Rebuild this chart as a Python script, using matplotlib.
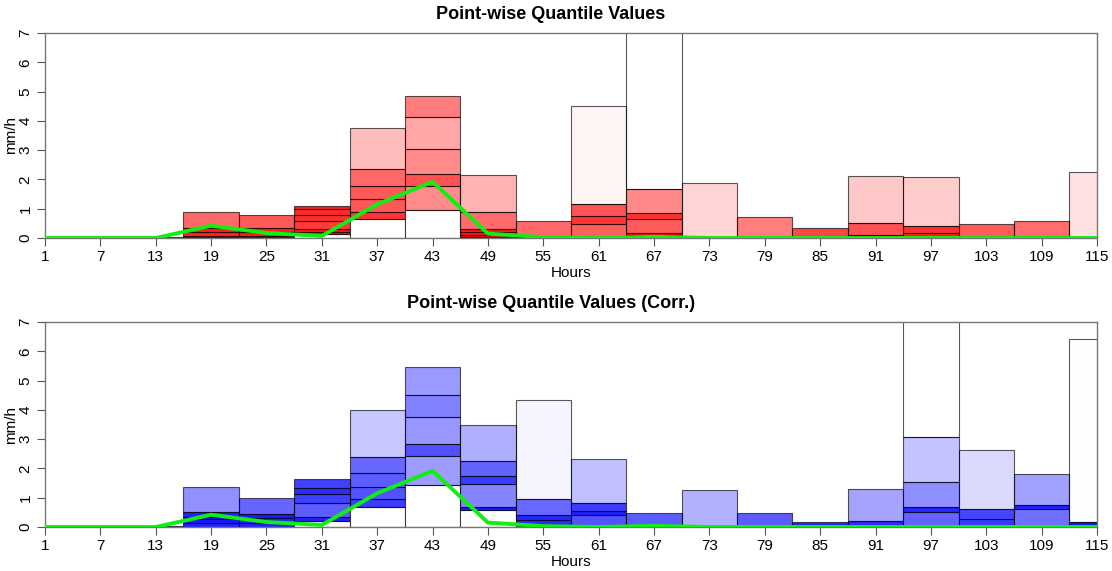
import numpy as np
import matplotlib
matplotlib.use("Agg")
import matplotlib.pyplot as plt

plt.rcParams['font.family'] = ['Liberation Sans', 'DejaVu Sans']

# 6-hourly bins centred on these hours
hours = [1, 7, 13, 19, 25, 31, 37, 43, 49, 55, 61, 67, 73, 79, 85, 91, 97, 103, 109, 115]

# quantile boundaries per bin (mm/h); first value = lowest quantile
raw_quantiles = [
    [0, 0], [0, 0], [0, 0.02],
    [0, 0.02, 0.07, 0.22, 0.35, 0.90],
    [0, 0.02, 0.07, 0.19, 0.33, 0.79],
    [0.15, 0.22, 0.30, 0.57, 0.78, 0.98, 1.10],
    [0.66, 0.90, 1.33, 1.78, 2.34, 3.74],
    [0.96, 1.79, 2.20, 3.03, 4.14, 4.85],
    [0, 0.03, 0.10, 0.19, 0.30, 0.88, 2.15],
    [0, 0.02, 0.58],
    [0, 0.49, 0.74, 1.15, 4.51],
    [0, 0.10, 0.18, 0.64, 0.86, 1.66, 9.5],
    [0, 1.87],
    [0, 0.72],
    [0, 0.33],
    [0, 0.10, 0.50, 2.12],
    [0, 0.05, 0.18, 0.40, 2.09],
    [0, 0.47],
    [0, 0.59],
    [0, 2.26],
]

corr_quantiles = [
    [0, 0], [0, 0], [0, 0.02],
    [0, 0.15, 0.26, 0.35, 0.50, 1.38],
    [0, 0.15, 0.32, 0.44, 0.98],
    [0.20, 0.35, 0.82, 1.12, 1.32, 1.63],
    [0.69, 0.97, 1.38, 1.85, 2.40, 3.99],
    [1.42, 2.43, 2.83, 3.77, 4.51, 5.47],
    [0.58, 0.70, 1.47, 1.74, 2.25, 3.47],
    [0.04, 0.24, 0.41, 0.97, 4.34],
    [0, 0.41, 0.55, 0.83, 2.31],
    [0, 0.47],
    [0, 1.25],
    [0, 0.47],
    [0, 0.16],
    [0, 0.20, 1.29],
    [0, 0.52, 0.69, 1.55, 3.08, 11.0],
    [0, 0.26, 0.60, 2.62],
    [0, 0.61, 0.75, 1.80],
    [0, 0.08, 0.17, 6.42],
]

# observed rain rate
observed = [0, 0, 0, 0.42, 0.17, 0.07, 1.15, 1.92, 0.15, 0.03,
            0, 0.04, 0, 0, 0, 0, 0, 0, 0, 0]

xticks = list(range(1, 116, 6))


def quantile_panel(ax, quantiles, rgb, title):
    edge = (0, 0, 0, 0.65)
    for h, q in zip(hours, quantiles):
        if q[0] > 0:
            ax.bar(h, q[0], bottom=0, width=6, color='white',
                   edgecolor=edge, linewidth=0.8)
        for lo, hi in zip(q[:-1], q[1:]):
            if hi - lo <= 0:
                continue
            # narrower band -> denser -> more opaque
            a = np.exp(-0.95 * (hi - lo))
            ax.bar(h, hi - lo, bottom=lo, width=6, color=rgb + (a,),
                   edgecolor=edge, linewidth=0.8)
    ax.plot(hours, observed, color='#11ee11', linewidth=2.8, zorder=5)

    ax.set_xlim(1, 115)
    ax.set_ylim(0, 7)
    ax.set_xticks(xticks)
    ax.set_yticks(range(0, 8))
    ax.tick_params(axis='both', direction='out', length=6, width=0.8,
                   color='#555555', labelsize=11, pad=3)
    for lab in ax.get_yticklabels():
        lab.set_rotation(90)
        lab.set_va('center')
    for s in ax.spines.values():
        s.set_color('#777777')
        s.set_linewidth(1.0)
    ax.set_xlabel("Hours", fontsize=11, labelpad=1)
    ax.set_ylabel("mm/h", fontsize=11, labelpad=0)
    ax.set_title(title, fontsize=13, fontweight='bold', pad=10, x=0.481)


fig = plt.figure(figsize=(11.12, 5.71), dpi=100)
ax1 = fig.add_axes([45 / 1112, 1 - 238 / 571, 1052 / 1112, 205 / 571])
ax2 = fig.add_axes([45 / 1112, 1 - 527 / 571, 1052 / 1112, 205 / 571])

quantile_panel(ax1, raw_quantiles, (1.0, 0.0, 0.0), "Point-wise Quantile Values")
quantile_panel(ax2, corr_quantiles, (0.0, 0.0, 1.0), "Point-wise Quantile Values (Corr.)")

fig.savefig("out.png", dpi=100)
